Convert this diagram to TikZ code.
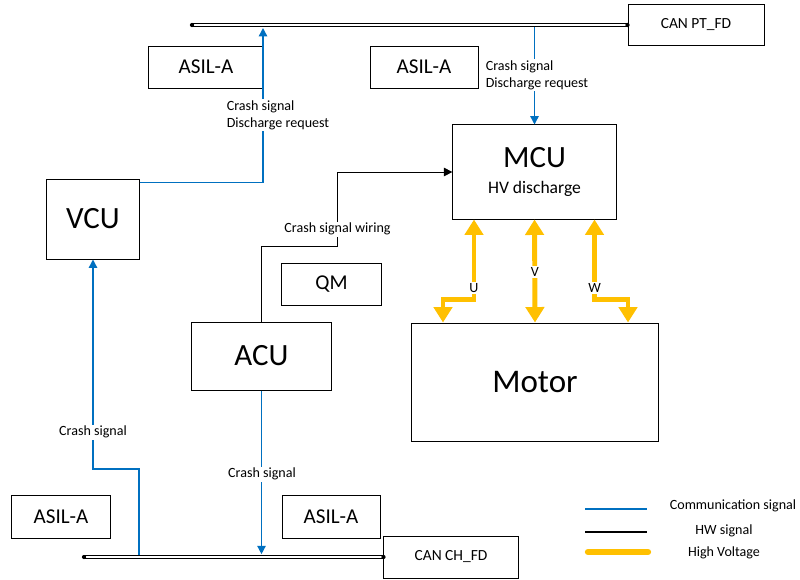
\documentclass[tikz,border=0pt]{standalone}
\usepackage{fontspec}
\setmainfont{Carlito}
\usetikzlibrary{positioning,calc,arrows.meta}
\definecolor{comblue}{HTML}{0070C0}
\definecolor{hvyellow}{HTML}{FFC000}

\begin{document}
\begin{tikzpicture}[x=0.025cm, y=-0.025cm,
    ecu block/.style={draw, rectangle, line width=0.7pt, font=\fontsize{22}{26}\selectfont},
    asil block/.style={draw, rectangle, line width=0.7pt, minimum width=2.5cm, minimum height=1.05cm, font=\fontsize{15}{18}\selectfont},
    bus box/.style={draw, rectangle, line width=0.7pt, minimum width=3.4cm, minimum height=1.03cm, font=\fontsize{11}{13}\selectfont},
    sig/.style={font=\fontsize{10}{12}\selectfont, fill=white, inner sep=1pt},
    legend/.style={font=\fontsize{10}{12}\selectfont},
    can bus/.style={double, line width=0.8pt, double distance=1.6pt},
    com/.style={draw=comblue, line width=1pt, >={Triangle[width=6pt,length=6pt]}},
    hw/.style={draw=black, line width=0.6pt, >={Triangle[width=6pt,length=6pt]}},
    hv/.style={draw=hvyellow, line width=3.5pt, >={Triangle[width=13pt,length=11pt]}, <->}]
    \useasboundingbox (0,0) rectangle (800,579);

    % boxes
    \node[bus box] (canpt) at (696,25) {CAN PT\_FD};
    \node[asil block, minimum width=2.85cm] (asilPT1) at (206,67) {ASIL-A};
    \node[asil block, minimum width=2.7cm] (asilPT2) at (424,67) {ASIL-A};
    \node[ecu block, minimum width=2.3cm, minimum height=2cm] (vcu) at (93,219) {VCU};
    \node[ecu block, minimum width=4.08cm, minimum height=2.35cm, align=center] (mcu) at (534.5,172) {MCU\\[-7pt]{\fontsize{12.5}{15}\selectfont HV discharge}};
    \node[asil block, minimum width=2.48cm] (qm) at (331.5,284) {QM};
    \node[ecu block, minimum width=3.5cm, minimum height=1.7cm] (acu) at (261.5,356) {ACU};
    \node[ecu block, minimum width=6.15cm, minimum height=2.95cm, font=\fontsize{23.5}{28}\selectfont] (motor) at (535,382) {Motor};
    \node[bus box, minimum width=3.35cm, minimum height=1.05cm] (canch) at (451,557) {CAN CH\_FD};
    \node[asil block, minimum width=2.45cm, minimum height=1.07cm] (asilCH1) at (61,517) {ASIL-A};
    \node[asil block, minimum width=2.45cm, minimum height=1.07cm] (asilCH2) at (331,517) {ASIL-A};

    % CAN buses
    \coordinate (ptL) at (192,25);
    \coordinate (chL) at (84,557);
    \draw[can bus] (ptL) -- (canpt.west);
    \draw[can bus] (chL) -- (canch.west);
    \foreach \p in {ptL, canpt.west, chL, canch.west}
        \fill (\p) circle (1.5pt);

    % communication signals
    \coordinate (vcuUp) at (263,28);
    \draw[com, ->] ($(vcu.north east)+(0,4)$) -| (vcuUp);
    \draw[com, ->] ([yshift=-1.5pt]mcu.north |- ptL) -- (mcu.north);
    \draw[com, ->] ($(chL)+(55,-2)$) -- ++(0,-86) -| (vcu.south);
    \draw[com, ->] (acu.south) -- ([yshift=2pt]acu.south |- chL);

    % HW signal
    \draw[hw, ->] (acu.north) |- ++(76,-75) |- (mcu.west);

    % high voltage
    \draw[hv] ($(mcu.south)+(-60.5,0)$) -- ++(0,80) node[pos=0.86, sig] (lblU) {U} -| ($(motor.north)+(-92,0)$);
    \draw[hv] (mcu.south) -- (motor.north) node[pos=0.51, sig] (lblV) {V};
    \draw[hv] ($(mcu.south)+(60,0)$) -- ++(0,80) node[pos=0.86, sig] (lblW) {W} -| ($(motor.north)+(93,0)$);

    % labels
    \node[sig, align=left] (vcuLbl) at (278,115) {Crash signal\\Discharge request};
    \node[sig, align=left] (mcuLbl) at (537,75) {Crash signal\\Discharge request};
    \node[sig] (wireLbl) at (337.5,229) {Crash signal wiring};
    \node[sig] (vcuInLbl) at (93,432) {Crash signal};
    \node[sig] (acuLbl) at (262,474) {Crash signal};

    % legend
    \coordinate (lgComA) at (585,509);
    \coordinate (lgComB) at (647,509);
    \coordinate (lgHwA) at (585,532);
    \coordinate (lgHwB) at (647,532);
    \coordinate (lgHvA) at (588,552);
    \coordinate (lgHvB) at (648,552);
    \draw[com, line width=1.3pt] (lgComA) -- (lgComB);
    \draw[hw, line width=0.8pt] (lgHwA) -- (lgHwB);
    \draw[draw=hvyellow, line width=4.5pt, line cap=round] (lgHvA) -- (lgHvB);
    \node[legend] (lgCom) at (733,506) {Communication signal};
    \node[legend] (lgHw) at (724,531) {HW signal};
    \node[legend] (lgHv) at (724,553) {High Voltage};
\end{tikzpicture}
\end{document}
